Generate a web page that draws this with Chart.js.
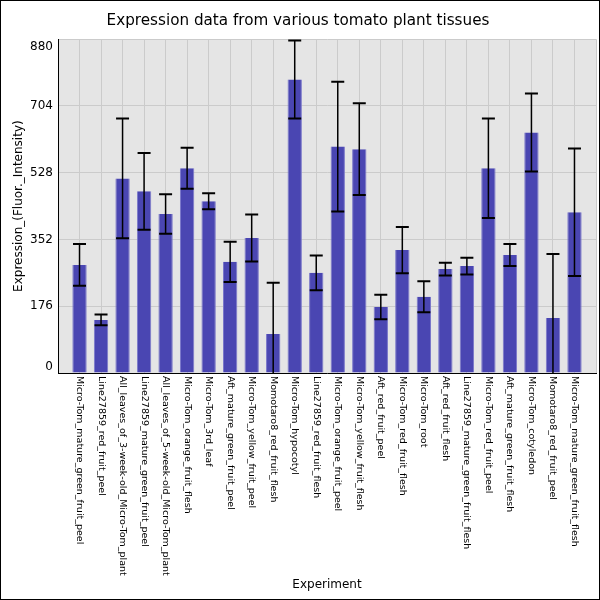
<!DOCTYPE html>
<html><head><meta charset="utf-8">
<script src="https://cdn.jsdelivr.net/npm/chart.js@4/dist/chart.umd.min.js"></script>
<style>html,body{margin:0;padding:0;background:#fff}#wrap{width:600px;height:600px;position:relative}</style>
</head><body><div id="wrap"><canvas id="c" width="600" height="600"></canvas></div>
<script>
const categories = [
  "Micro-Tom_mature_green_fruit_peel",
  "Line27859_red_fruit_peel",
  "All_leaves_of_3-week-old_Micro-Tom_plant",
  "Line27859_mature_green_fruit_peel",
  "All_leaves_of_5-week-old_Micro-Tom_plant",
  "Micro-Tom_orange_fruit_flesh",
  "Micro-Tom_3rd_leaf",
  "Aft_mature_green_fruit_peel",
  "Micro-Tom_yellow_fruit_peel",
  "Momotaro8_red_fruit_flesh",
  "Micro-Tom_hypocotyl",
  "Line27859_red_fruit_flesh",
  "Micro-Tom_orange_fruit_peel",
  "Micro-Tom_yellow_fruit_flesh",
  "Aft_red_fruit_peel",
  "Micro-Tom_red_fruit_flesh",
  "Micro-Tom_root",
  "Aft_red_fruit_flesh",
  "Line27859_mature_green_fruit_flesh",
  "Micro-Tom_red_fruit_peel",
  "Aft_mature_green_fruit_flesh",
  "Micro-Tom_cotyledon",
  "Momotaro8_red_fruit_peel",
  "Micro-Tom_mature_green_fruit_flesh"
];
const values = [285, 140, 513, 479, 419, 540, 453, 293, 356, 103, 774, 264,
                597, 590, 174, 324, 201, 274, 282, 540, 311, 634, 145, 424];
const errors = [55, 14, 158, 101, 52, 54, 21, 53, 62, 135, 103, 46,
                171, 121, 32, 61, 41, 17, 22, 131, 29, 103, 169, 168];
const yTicks = [0, 176, 352, 528, 704, 880];
const titleText = "Expression data from various tomato plant tissues";
const xTitle = "Experiment";
const yTitle = "Expression_(Fluor._Intensity)";

const FONT = "DejaVu Sans";

const decor = {
  id: 'decor',
  beforeDraw(chart) {
    const {ctx, chartArea: a} = chart;
    ctx.save();
    ctx.fillStyle = '#fff';
    ctx.fillRect(0, 0, chart.width, chart.height);
    ctx.fillStyle = '#E5E5E5';
    ctx.fillRect(a.left, a.top, a.right - a.left, a.bottom - a.top);
    ctx.restore();
  },
  afterDatasetsDraw(chart) {
    const {ctx, chartArea: a, scales: {x, y}} = chart;
    ctx.save();
    ctx.beginPath();
    ctx.rect(a.left, a.top - 2, a.right - a.left, a.bottom - a.top + 2);
    ctx.clip();
    ctx.strokeStyle = '#000';
    values.forEach((v, i) => {
      const px = x.getPixelForValue(i);
      const yHi = y.getPixelForValue(v + errors[i]);
      const yLo = y.getPixelForValue(v - errors[i]);
      ctx.lineWidth = 1.5;
      ctx.beginPath();
      ctx.moveTo(px, yHi);
      ctx.lineTo(px, yLo);
      ctx.stroke();
      ctx.lineWidth = 2;
      ctx.beginPath();
      ctx.moveTo(px - 6.5, yHi); ctx.lineTo(px + 6.5, yHi);
      ctx.moveTo(px - 6.5, yLo); ctx.lineTo(px + 6.5, yLo);
      ctx.stroke();
    });
    ctx.restore();
  },
  afterDraw(chart) {
    const {ctx, chartArea: a, scales: {x, y}} = chart;
    ctx.save();
    ctx.fillStyle = '#000';
    ctx.font = '12px "' + FONT + '"';
    ctx.textAlign = 'right';
    ctx.textBaseline = 'middle';
    yTicks.forEach(t => {
      let py = y.getPixelForValue(t);
      py = Math.min(Math.max(py, a.top + 7.5), a.bottom - 6.5);
      ctx.fillText(String(t), a.left - 5, py);
    });
    ctx.font = '9.5px "' + FONT + '"';
    ctx.textAlign = 'left';
    ctx.textBaseline = 'middle';
    categories.forEach((c, i) => {
      const px = x.getPixelForValue(i);
      ctx.save();
      ctx.translate(px, a.bottom + 3);
      ctx.rotate(Math.PI / 2);
      ctx.fillText(c, 0, 0);
      ctx.restore();
    });
    ctx.strokeStyle = '#000';
    ctx.lineWidth = 1;
    ctx.strokeRect(0.5, 0.5, chart.width - 1, chart.height - 1);
    ctx.restore();
  }
};

new Chart(document.getElementById('c'), {
  type: 'bar',
  data: {
    datasets: [{
      data: values.map((v, i) => ({x: i, y: v})),
      backgroundColor: '#4A46B2',
      borderColor: '#7B78CA',
      borderWidth: {left: 1, right: 1, top: 0, bottom: 0},
      barPercentage: 0.667,
      categoryPercentage: 1
    }]
  },
  options: {
    responsive: false,
    animation: false,
    devicePixelRatio: 1,
    layout: {padding: {top: 0, right: 4, bottom: 0, left: 0}},
    plugins: {
      legend: {display: false},
      tooltip: {enabled: false},
      title: {
        display: true,
        text: titleText,
        color: '#000',
        font: {family: FONT, size: 15.2, weight: 'normal'},
        padding: {top: 12, bottom: 9}
      }
    },
    scales: {
      x: {
        type: 'linear',
        offset: false,
        min: -1, max: 24,
        ticks: {stepSize: 1, display: false},
        grid: {color: '#CBCBCB', drawTicks: false, lineWidth: 1, offset: false},
        border: {color: '#000', width: 1},
        title: {display: true, text: xTitle, color: '#000',
                font: {family: FONT, size: 12}, padding: {top: 0, bottom: 8}},
        afterFit(s) { s.height = 227; }
      },
      y: {
        min: 0, max: 880,
        ticks: {stepSize: 176, display: false},
        grid: {color: '#CBCBCB', drawTicks: false, lineWidth: 1},
        border: {color: '#000', width: 1},
        title: {display: true, text: yTitle, color: '#000',
                font: {family: FONT, size: 12}, padding: {top: 12, bottom: 0}},
        afterFit(s) { s.width = 58; }
      }
    }
  },
  plugins: [decor]
});
</script>
</body></html>
